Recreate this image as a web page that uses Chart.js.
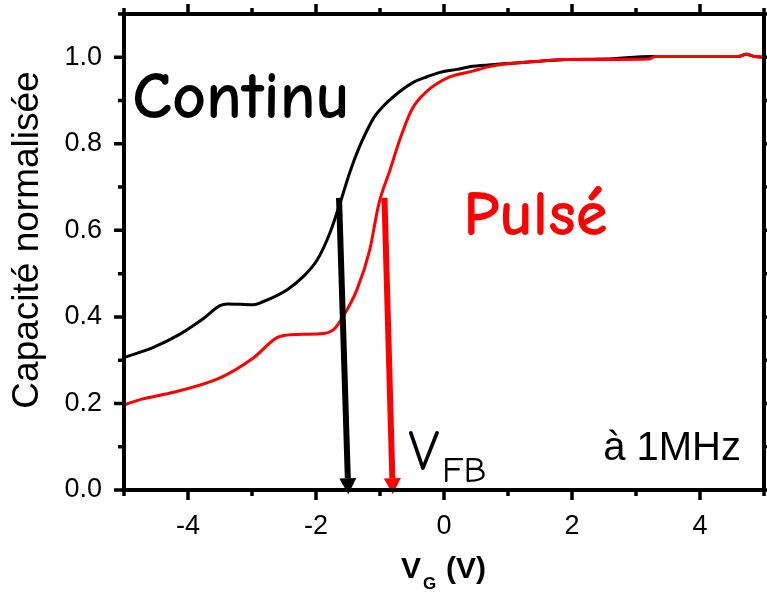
<!DOCTYPE html>
<html>
<head>
<meta charset="utf-8">
<script src="https://cdn.jsdelivr.net/npm/chart.js@4.4.1/dist/chart.umd.min.js"></script>
<style>
  html, body { margin: 0; padding: 0; background: #fff; }
  #wrap { width: 767px; height: 592px; position: relative; }
</style>
</head>
<body>
<div id="wrap"><canvas id="cv"></canvas></div>
<script>
// C-V curves, normalised capacitance vs gate voltage
const vgContinu = [-5.0, -4.55, -4.14, -3.78, -3.5, -3.39, -2.98, -2.83, -2.45, -2.2, -1.98, -1.78, -1.63, -1.47, -1.33, -1.2, -1.08, -0.95, -0.69, -0.48, -0.3, -0.06, 0.2, 0.45, 0.83, 1.23, 1.5, 1.9, 2.5, 3.25, 4.0, 4.6, 4.72, 4.85, 5.0];
const capContinu = [0.306, 0.329, 0.359, 0.394, 0.426, 0.430, 0.428, 0.435, 0.463, 0.493, 0.532, 0.595, 0.660, 0.735, 0.790, 0.832, 0.864, 0.887, 0.921, 0.942, 0.953, 0.965, 0.972, 0.979, 0.984, 0.988, 0.991, 0.995, 0.996, 1.002, 1.002, 1.002, 1.007, 1.002, 1.000];

const vgPulse = [-5.0, -4.72, -4.28, -3.5, -2.98, -2.61, -2.4, -1.94, -1.73, -1.58, -1.36, -1.16, -1.02, -0.84, -0.69, -0.5, -0.27, 0.08, 0.45, 0.72, 1.23, 1.5, 1.9, 2.5, 3.2, 3.3, 4.0, 4.6, 4.72, 4.85, 5.0];
const capPulse = [0.197, 0.210, 0.224, 0.259, 0.305, 0.352, 0.359, 0.361, 0.370, 0.400, 0.463, 0.555, 0.660, 0.741, 0.810, 0.880, 0.921, 0.954, 0.968, 0.979, 0.988, 0.991, 0.995, 0.995, 0.996, 1.002, 1.002, 1.002, 1.007, 1.002, 1.000];

// flat-band voltage markers: [start V, start C, end V, end C]
const vfbArrowContinu = [-1.64, 0.675, -1.495, -0.01];
const vfbArrowPulse = [-0.93, 0.675, -0.80, -0.01];

const xTickValues = [-4, -2, 0, 2, 4];
const xMinorValues = [-5, -3, -1, 1, 3, 5];
const yTickValues = [0, 0.2, 0.4, 0.6, 0.8, 1.0];
const yMinorValues = [0.1, 0.3, 0.5, 0.7, 0.9, 1.1];

const toXY = (xs, ys) => xs.map((x, i) => ({ x: x, y: ys[i] }));

const SANS = 'Arial, "Liberation Sans", sans-serif';
const HAND = '"Comic Sans MS", "Comic Neue", "Noto Sans", sans-serif';

const framePlugin = {
  id: 'frameAndNotes',
  afterDraw(chart) {
    const { ctx, chartArea: a, scales: { x, y } } = chart;
    ctx.save();

    // arrows marking V_FB
    const arrow = (p, color) => {
      const x0 = x.getPixelForValue(p[0]), y0 = y.getPixelForValue(p[1]);
      const x1 = x.getPixelForValue(p[2]), y1 = y.getPixelForValue(p[3]);
      const ang = Math.atan2(y1 - y0, x1 - x0);
      const headL = 16, headW = 8.5;
      const bx = x1 - headL * Math.cos(ang), by = y1 - headL * Math.sin(ang);
      ctx.strokeStyle = color; ctx.fillStyle = color;
      ctx.lineWidth = 6; ctx.lineCap = 'butt';
      ctx.beginPath(); ctx.moveTo(x0, y0); ctx.lineTo(bx, by); ctx.stroke();
      ctx.beginPath();
      ctx.moveTo(x1, y1);
      ctx.lineTo(bx + headW * Math.sin(ang), by - headW * Math.cos(ang));
      ctx.lineTo(bx - headW * Math.sin(ang), by + headW * Math.cos(ang));
      ctx.closePath(); ctx.fill();
    };
    arrow(vfbArrowContinu, '#000000');
    arrow(vfbArrowPulse, '#ff0000');

    // frame
    ctx.strokeStyle = '#000000'; ctx.lineWidth = 4; ctx.lineCap = 'square';
    ctx.beginPath();
    ctx.rect(a.left, a.top, a.right - a.left, a.bottom - a.top);
    ctx.stroke();

    // tick marks on all four sides, pointing outward
    ctx.lineWidth = 3.5; ctx.lineCap = 'butt';
    const tickX = (v, len) => {
      const px = x.getPixelForValue(v);
      ctx.beginPath();
      ctx.moveTo(px, a.bottom); ctx.lineTo(px, a.bottom + len);
      ctx.moveTo(px, a.top); ctx.lineTo(px, a.top - len);
      ctx.stroke();
    };
    const tickY = (v, len) => {
      const py = y.getPixelForValue(v);
      ctx.beginPath();
      ctx.moveTo(a.left, py); ctx.lineTo(a.left - len, py);
      ctx.moveTo(a.right, py); ctx.lineTo(a.right + len, py);
      ctx.stroke();
    };
    xTickValues.forEach(v => tickX(v, 10));
    xMinorValues.forEach(v => tickX(v, 6));
    yTickValues.forEach(v => tickY(v, 10));
    yMinorValues.forEach(v => tickY(v, 6));

    // axis titles
    ctx.fillStyle = '#000000';
    ctx.textBaseline = 'alphabetic';
    ctx.save();
    ctx.translate(38, 240);
    ctx.rotate(-Math.PI / 2);
    ctx.font = '37px ' + SANS;
    ctx.textAlign = 'center';
    ctx.fillText('Capacité normalisée', 0, 0);
    ctx.restore();

    ctx.textAlign = 'left';
    ctx.font = 'bold 30px ' + SANS;
    ctx.fillText('V', 401, 578);
    ctx.font = 'bold 17px ' + SANS;
    ctx.fillText('G', 423, 589);
    ctx.font = 'bold 30px ' + SANS;
    ctx.fillText('(V)', 446, 578);

    // curve labels
    ctx.font = 'bold 66px ' + HAND;
    ctx.fillStyle = '#000000';
    ctx.fillText('Continu', x.getPixelForValue(-4.87), y.getPixelForValue(0.86));
    ctx.fillStyle = '#ff0000';
    ctx.font = 'bold 65px ' + HAND;
    ctx.fillText('Pulsé', x.getPixelForValue(0.30), y.getPixelForValue(0.59));

    ctx.fillStyle = '#000000';
    ctx.font = '58px ' + HAND;
    ctx.fillText('V', x.getPixelForValue(-0.56), y.getPixelForValue(0.047));
    ctx.font = '37px ' + HAND;
    ctx.fillText('FB', x.getPixelForValue(-0.03), y.getPixelForValue(0.018));

    ctx.font = '40px ' + SANS;
    ctx.textAlign = 'right';
    ctx.fillText('à 1MHz', x.getPixelForValue(4.64), y.getPixelForValue(0.07));

    ctx.restore();
  }
};

new Chart(document.getElementById('cv'), {
  type: 'line',
  data: {
    datasets: [
      {
        label: 'Pulsé',
        data: toXY(vgPulse, capPulse),
        borderColor: '#ff0000',
        borderWidth: 3,
        pointRadius: 0,
        cubicInterpolationMode: 'monotone',
        order: 0
      },
      {
        label: 'Continu',
        data: toXY(vgContinu, capContinu),
        borderColor: '#000000',
        borderWidth: 3,
        pointRadius: 0,
        cubicInterpolationMode: 'monotone',
        order: 1
      }
    ]
  },
  options: {
    responsive: true,
    maintainAspectRatio: false,
    animation: false,
    layout: { padding: { top: 14, right: 3, left: 0, bottom: 0 } },
    plugins: { legend: { display: false }, tooltip: { enabled: false } },
    scales: {
      x: {
        type: 'linear',
        min: -5, max: 5,
        afterBuildTicks: s => { s.ticks = xTickValues.map(v => ({ value: v })); },
        afterFit: s => { s.height = 102; s.paddingLeft = 0; s.paddingRight = 0; },
        grid: { display: false },
        border: { display: false },
        ticks: { color: '#000', font: { family: SANS, size: 27 }, padding: 12, maxRotation: 0 }
      },
      y: {
        type: 'linear',
        min: 0, max: 1.1,
        afterBuildTicks: s => { s.ticks = yTickValues.map(v => ({ value: v })); },
        afterFit: s => { s.width = 124; s.paddingTop = 0; s.paddingBottom = 0; },
        grid: { display: false },
        border: { display: false },
        ticks: { color: '#000', font: { family: SANS, size: 27 }, padding: 14,
                 callback: v => v.toFixed(1) }
      }
    }
  },
  plugins: [framePlugin]
});
</script>
</body>
</html>
